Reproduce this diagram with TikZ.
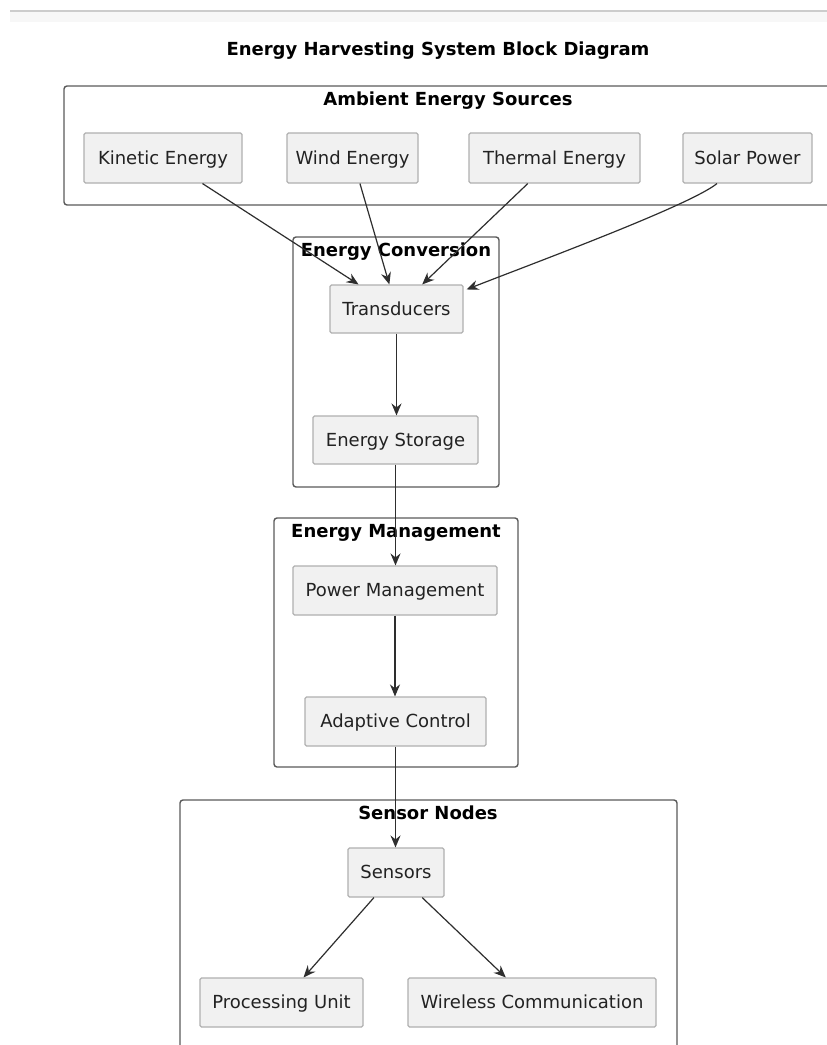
\documentclass[tikz,border=0pt]{standalone}
\usepackage{fontspec}
\setmainfont{DejaVu Sans}
\usetikzlibrary{arrows.meta}
\definecolor{boxfill}{HTML}{F1F1F1}
\definecolor{boxline}{HTML}{B0B0B0}
\definecolor{grpline}{HTML}{5A5A5A}
\definecolor{arrowcol}{HTML}{2E2E2E}
\definecolor{txtcol}{HTML}{222222}
\definecolor{topline}{HTML}{CCCCCC}
\tikzset{
  block/.style={draw=boxline, fill=boxfill, line width=1.1pt, rounded corners=1.5pt,
    inner sep=0pt, minimum height=49pt, text=txtcol, text height=14.5pt, text depth=2.5pt,
    font=\fontsize{18}{21}\selectfont},
  group/.style={draw=grpline, fill=white, line width=1.4pt, rounded corners=3pt},
  grouptitle/.style={inner sep=0pt, text=black, text height=14pt, text depth=3pt,
    font=\fontsize{18}{21}\selectfont\bfseries},
  flow/.style={draw=arrowcol, line width=1.2pt, -{Stealth[length=12pt,width=10pt,inset=4pt]}},
}
\begin{document}
\begin{tikzpicture}[x=1pt,y=-1pt]
\useasboundingbox (0,0) rectangle (827,1045);
\clip (0,0) rectangle (827,1045);
% top rule
\fill[white!97!black] (10,12) rectangle (827,22);
\draw[topline, line width=2pt] (10,11) -- (827,11);
% title
\node[grouptitle] (title) at (438,50) {Energy Harvesting System Block Diagram};
% groups
\draw[group] (64,86) rectangle (840,205);
\draw[group] (293,237) rectangle (499,487);
\draw[group] (274,518) rectangle (518,767);
\draw[group] (180,800) rectangle (677,1060);
\node[grouptitle] (gamb) at (448,100) {Ambient Energy Sources};
\node[grouptitle] (gconv) at (396,251) {Energy Conversion};
\node[grouptitle] (gmgmt) at (396,532) {Energy Management};
\node[grouptitle] (gsens) at (428,814) {Sensor Nodes};
% nodes
\node[block, minimum width=158pt, minimum height=50pt] (kin) at (163,158) {Kinetic Energy};
\node[block, minimum width=131pt, minimum height=50pt] (wind) at (352.5,158) {Wind Energy};
\node[block, minimum width=171pt, minimum height=50pt] (therm) at (554.5,158) {Thermal Energy};
\node[block, minimum width=129pt, minimum height=50pt] (solar) at (747.5,158) {Solar Power};
\node[block, minimum width=133pt, minimum height=48pt] (trans) at (396.5,309) {Transducers};
\node[block, minimum width=165pt, minimum height=48pt] (stor) at (395.5,440) {Energy Storage};
\node[block, minimum width=204pt] (pm) at (395,590.5) {Power Management};
\node[block, minimum width=181pt] (ac) at (395.5,721.5) {Adaptive Control};
\node[block, minimum width=96pt] (sens) at (396,872.5) {Sensors};
\node[block, minimum width=163pt] (proc) at (281.5,1002.5) {Processing Unit};
\node[block, minimum width=248pt] (wire) at (532,1002.5) {Wireless Communication};
% connectors
\draw[flow] (kin) -- (trans);
\draw[flow] (wind) -- (trans);
\draw[flow] (therm) -- (trans);
\draw[flow] ([xshift=-30.5pt]solar.south) .. controls ([xshift=-58pt,yshift=-22pt]solar.south) and ([xshift=72pt,yshift=22pt]trans.north east) .. ([xshift=3pt,yshift=-5pt]trans.north east);
\draw[flow] (trans.south) -- (trans.south |- stor.north);
\draw[flow] (stor.south) -- (stor.south |- pm.north);
\draw[flow] (pm.south) -- (pm.south |- ac.north);
\draw[flow] (ac.south) -- (ac.south |- sens.north);
\draw[flow] (sens) -- (proc);
\draw[flow] (sens) -- (wire);
\end{tikzpicture}
\end{document}
